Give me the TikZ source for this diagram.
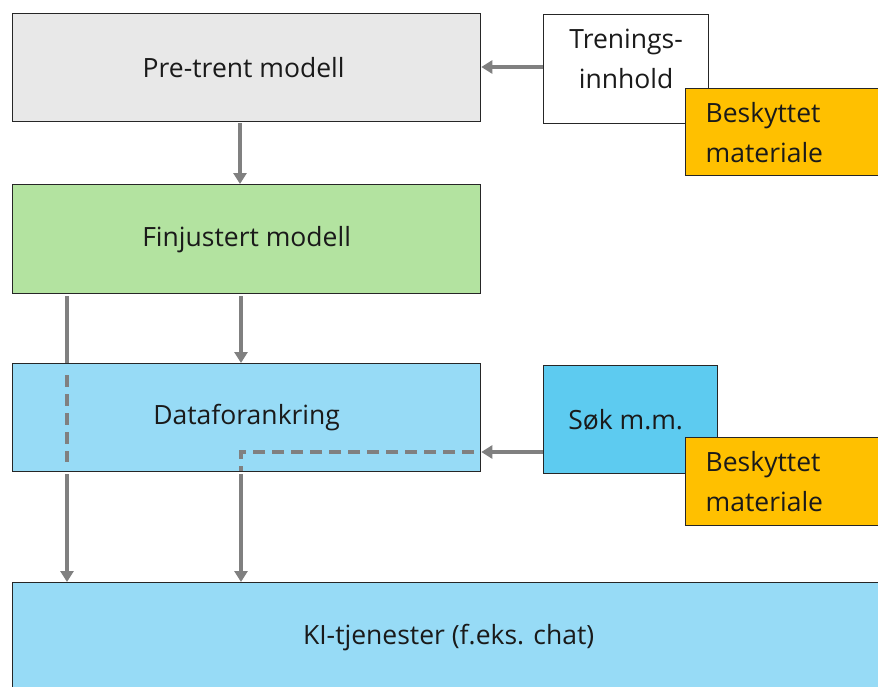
\documentclass[tikz,border=0pt]{standalone}
\usepackage{fontspec}
\setmainfont{Open Sans}
\usetikzlibrary{arrows.meta}
\definecolor{grayfill}{HTML}{E8E8E8}
\definecolor{greenfill}{HTML}{B3E3A0}
\definecolor{bluefill}{HTML}{97DBF6}
\definecolor{bluedark}{HTML}{5DCBF0}
\definecolor{orangefill}{HTML}{FFC000}
\definecolor{linegray}{HTML}{808080}
\definecolor{txt}{HTML}{1A1A1A}
\tikzset{
  box/.style={draw=black!85, line width=1.3pt, inner sep=0pt, anchor=north west, text=txt, font=\fontsize{26.5}{40}\selectfont},
  conn/.style={draw=linegray, line width=3.6pt, -{Triangle[width=13pt,length=11pt]}},
  connplain/.style={draw=linegray, line width=3.6pt},
  conndash/.style={draw=linegray, line width=3.6pt, dash pattern=on 12pt off 7pt},
}
\begin{document}
\begin{tikzpicture}[x=1pt,y=-1pt]
\useasboundingbox (0,0) rectangle (878,686);
\node[box, fill=grayfill, minimum width=468pt, minimum height=108pt] (pre) at (12,13) {\hspace*{-6pt}Pre-trent modell};
\node[box, fill=white, minimum width=165pt, minimum height=109pt, align=center] (tren) at (543,14) {\raisebox{2pt}[0pt][0pt]{\begin{tabular}{@{}c@{}}Trenings-\\[0pt]innhold\end{tabular}}};
\node[box, fill=orangefill, minimum width=200pt, minimum height=87pt, align=left, text width=180pt] (besk1) at (685,88) {\hspace*{10pt}Beskyttet\\\hspace*{10pt}materiale};
\node[box, fill=greenfill, minimum width=468pt, minimum height=109pt] (fin) at (12,184) {Finjustert modell};
\node[box, fill=bluefill, minimum width=468pt, minimum height=108pt] (data) at (12,363) {Dataforankring};
\node[box, fill=bluedark, minimum width=174pt, minimum height=108pt] (sok) at (543,365) {\hspace*{-10pt}Søk m.m.};
\node[box, fill=orangefill, minimum width=200pt, minimum height=88pt, align=left, text width=180pt] (besk2) at (685,437) {\hspace*{10pt}Beskyttet\\\hspace*{10pt}materiale};
\node[box, fill=bluefill, minimum width=880pt, minimum height=110pt] (ki) at (12,582) {\hspace*{-8pt}KI-tjenester (f.eks. chat)};
% coordinates
\coordinate (tl) at (tren.west |- 0,67);
\coordinate (pr) at (pre.east |- 0,67);
\draw[conn] (tl) -- (pr);
\draw[conn] ([yshift=-1pt]pre.south -| 240,0) -- (fin.north -| 240,0);
\coordinate (fa) at (67,296);
\coordinate (fb) at (241,296);
\coordinate (da) at (data.north -| 67,0);
\coordinate (db) at (data.north -| 241,0);
\draw[connplain] (fa) -- (da);
\draw[conn] (fb) -- (db);
\coordinate (d1) at (67,375);
\coordinate (d2) at (67,462);
\draw[conndash] (d1) -- (d2);
\coordinate (s1) at (sok.west |- 0,452);
\coordinate (s2) at (data.east |- 0,452);
\draw[conn] (s1) -- (s2);
\coordinate (h1) at (474,452);
\coordinate (h2) at (241,452);
\coordinate (h3) at (241,471);
\draw[conndash] (h1) -- (h2) -- (h3);
\coordinate (ea) at (67,474);
\coordinate (eb) at (241,474);
\draw[conn] (ea) -- (ki.north -| 67,0);
\draw[conn] (eb) -- (ki.north -| 241,0);
\end{tikzpicture}
\end{document}
